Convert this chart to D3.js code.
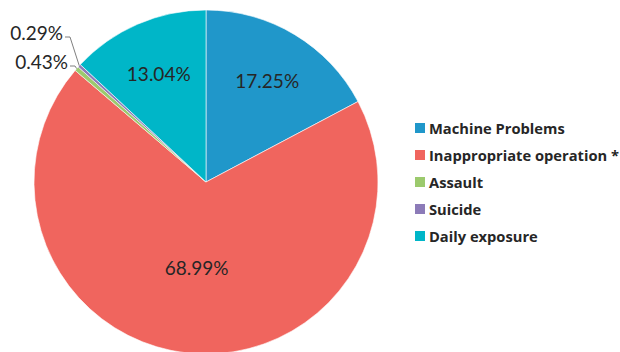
<!DOCTYPE html>
<html>
<head>
<meta charset="utf-8">
<script src="https://cdn.jsdelivr.net/npm/d3@7"></script>
<style>
  body { margin: 0; background: #fff; }
  svg { display: block; }
</style>
</head>
<body>
<svg id="chart" width="620" height="352"></svg>
<script>
// slice data, clockwise from 12 o'clock
var categories = ['Machine Problems', 'Inappropriate operation *', 'Assault', 'Suicide', 'Daily exposure'];
var values = [17.25, 68.99, 0.43, 0.29, 13.04];
var colors = ['#2097CA', '#F0655E', '#9CCA6D', '#8C7BB8', '#00B6C8'];

var svg = d3.select('#chart'),
    cx = 206, cy = 182,
    radius = 172;

var pie = d3.pie().sort(null).value(function(d) { return d; });
var arcs = pie(values);

var arc = d3.arc().innerRadius(0).outerRadius(radius);

var g = svg.append('g').attr('transform', 'translate(' + cx + ',' + cy + ')');

g.selectAll('path')
  .data(arcs)
  .enter().append('path')
  .attr('d', arc)
  .attr('fill', function(d, i) { return colors[i]; })
  .attr('stroke', '#fff')
  .attr('stroke-width', 0.6);

function fmt(v) { return v.toFixed(2) + '%'; }

// big slices get inside labels
arcs.forEach(function(d, i) {
  var span = d.endAngle - d.startAngle;
  if (values[i] < 5) return;
  var r = span > Math.PI ? radius * 0.5 : radius * 0.69;
  var a = (d.startAngle + d.endAngle) / 2;
  g.append('text')
    .attr('x', Math.sin(a) * r)
    .attr('y', -Math.cos(a) * r)
    .attr('text-anchor', 'middle')
    .attr('dominant-baseline', 'central')
    .attr('font-family', 'Lato, sans-serif')
    .attr('font-size', 19)
    .attr('fill', '#262626')
    .text(fmt(values[i]));
});

// small slices: outside labels with leader lines
var small = [
  { idx: 3, tx: -143, ty: -150, lx: -141, ly: -145 },
  { idx: 2, tx: -138, ty: -121, lx: -136, ly: -116 }
];
small.forEach(function(s) {
  var d = arcs[s.idx];
  var a = (d.startAngle + d.endAngle) / 2;
  var ex = Math.sin(a) * radius, ey = -Math.cos(a) * radius;
  g.append('polyline')
    .attr('points', [[s.lx, s.ly], [s.lx + 5, s.ly], [ex, ey]].map(function(p) { return p.join(','); }).join(' '))
    .attr('fill', 'none')
    .attr('stroke', '#7f7f7f')
    .attr('stroke-width', 1);
  g.append('text')
    .attr('x', s.tx)
    .attr('y', s.ty)
    .attr('text-anchor', 'end')
    .attr('dominant-baseline', 'central')
    .attr('font-family', 'Lato, sans-serif')
    .attr('font-size', 19)
    .attr('fill', '#262626')
    .text(fmt(values[s.idx]));
});

// legend
var legend = svg.append('g').attr('transform', 'translate(415,128)');
var row = legend.selectAll('g')
  .data(categories)
  .enter().append('g')
  .attr('transform', function(d, i) { return 'translate(0,' + (i * 27) + ')'; });

row.append('rect')
  .attr('x', 0).attr('y', -5)
  .attr('width', 10).attr('height', 10)
  .attr('fill', function(d, i) { return colors[i]; });

row.append('text')
  .attr('x', 14)
  .attr('y', 0)
  .attr('dominant-baseline', 'central')
  .attr('font-family', '"Open Sans", sans-serif')
  .attr('font-weight', 'bold')
  .attr('font-size', 14.7)
  .attr('fill', '#262626')
  .text(function(d) { return d; });
</script>
</body>
</html>
